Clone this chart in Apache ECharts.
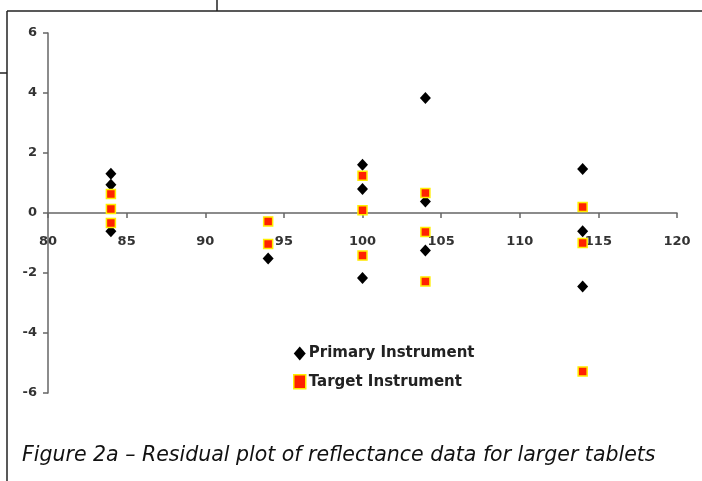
<!DOCTYPE html>
<html>
<head>
<meta charset="utf-8">
<script src="https://cdn.jsdelivr.net/npm/echarts@6/dist/echarts.min.js"></script>
<style>
html,body{margin:0;padding:0;background:#fff;}
#c{width:702px;height:481px;}
</style>
</head>
<body>
<div id="c"></div>
<script>
const xTicks = [80, 85, 90, 95, 100, 105, 110, 115, 120];
const yTicks = [-6, -4, -2, 0, 2, 4, 6];
const primaryX = [84, 84, 84, 94, 100, 100, 100, 104, 104, 104, 114, 114, 114];
const primaryY = [1.31, 0.94, -0.61, -1.52, 1.61, 0.80, -2.17, 3.83, 0.38, -1.25, 1.47, -0.61, -2.45];
const targetX = [84, 84, 84, 94, 94, 100, 100, 100, 104, 104, 104, 114, 114, 114];
const targetY = [0.63, 0.13, -0.33, -0.28, -1.03, 1.24, 0.09, -1.42, 0.67, -0.63, -2.28, 0.20, -1.00, -5.28];
const seriesNames = ['Primary Instrument', 'Target Instrument'];
const caption = 'Figure 2a \u2013 Residual plot of reflectance data for larger tablets';

const gridTop = 33, gridBottom = 88, chartH = 481;
const plotH = chartH - gridTop - gridBottom;
// shift the x axis up so it sits on y = 0 (labels included)
const xAxisOffset = -plotH * (0 - yTicks[0]) / (yTicks[yTicks.length - 1] - yTicks[0]);

const chart = echarts.init(document.getElementById('c'), null, {renderer: 'canvas'});
const labelStyle = {fontFamily: 'DejaVu Sans', fontWeight: 'bold', fontSize: 13, color: '#333'};
const axisLineStyle = {color: '#666', width: 1.5};

chart.setOption({
  animation: false,
  backgroundColor: '#fff',
  grid: {left: 48, right: 25, top: gridTop, bottom: gridBottom, containLabel: false},
  xAxis: {
    type: 'value', min: xTicks[0], max: xTicks[xTicks.length - 1], interval: 5,
    offset: xAxisOffset,
    axisLine: {show: true, onZero: false, lineStyle: axisLineStyle},
    axisTick: {show: true, inside: false, length: 5, lineStyle: axisLineStyle},
    axisLabel: Object.assign({margin: 22}, labelStyle),
    splitLine: {show: false}
  },
  yAxis: {
    type: 'value', min: yTicks[0], max: yTicks[yTicks.length - 1], interval: 2,
    axisLine: {show: true, onZero: false, lineStyle: axisLineStyle},
    axisTick: {show: true, inside: false, length: 5, lineStyle: axisLineStyle},
    axisLabel: Object.assign({margin: 11}, labelStyle),
    splitLine: {show: false}
  },
  legend: {
    orient: 'vertical', left: 288, top: 341, itemGap: 13,
    itemWidth: 12, itemHeight: 14,
    textStyle: {fontFamily: 'DejaVu Sans', fontWeight: 'bold', fontSize: 15, color: '#222', padding: [0, 0, 0, -2]},
    data: [
      {name: seriesNames[0], icon: 'diamond'},
      {name: seriesNames[1], icon: 'rect', itemStyle: {color: '#ff2200', borderColor: '#ffee00', borderWidth: 1.5}}
    ]
  },
  graphic: [
    {type: 'line', shape: {x1: 7, y1: 11, x2: 702, y2: 11}, style: {stroke: '#222', lineWidth: 1.5}},
    {type: 'line', shape: {x1: 7, y1: 11, x2: 7, y2: 481}, style: {stroke: '#222', lineWidth: 1.5}},
    {type: 'line', shape: {x1: 0, y1: 73, x2: 7, y2: 73}, style: {stroke: '#222', lineWidth: 1.5}},
    {type: 'line', shape: {x1: 217, y1: 0, x2: 217, y2: 11}, style: {stroke: '#222', lineWidth: 1.5}},
    {type: 'text', left: 22, top: 446, style: {text: caption, font: 'italic 20.5px "DejaVu Sans"', fill: '#111'}}
  ],
  series: [
    {
      name: seriesNames[0], type: 'scatter', symbol: 'diamond', symbolSize: [11, 12],
      itemStyle: {color: '#000', opacity: 1},
      data: primaryX.map((x, i) => [x, primaryY[i]]), z: 2
    },
    {
      name: seriesNames[1], type: 'scatter', symbol: 'rect', symbolSize: 9,
      itemStyle: {color: '#ff2200', borderColor: '#ffee00', borderWidth: 1.5, opacity: 1},
      data: targetX.map((x, i) => [x, targetY[i]]), z: 3
    }
  ]
});
</script>
</body>
</html>
